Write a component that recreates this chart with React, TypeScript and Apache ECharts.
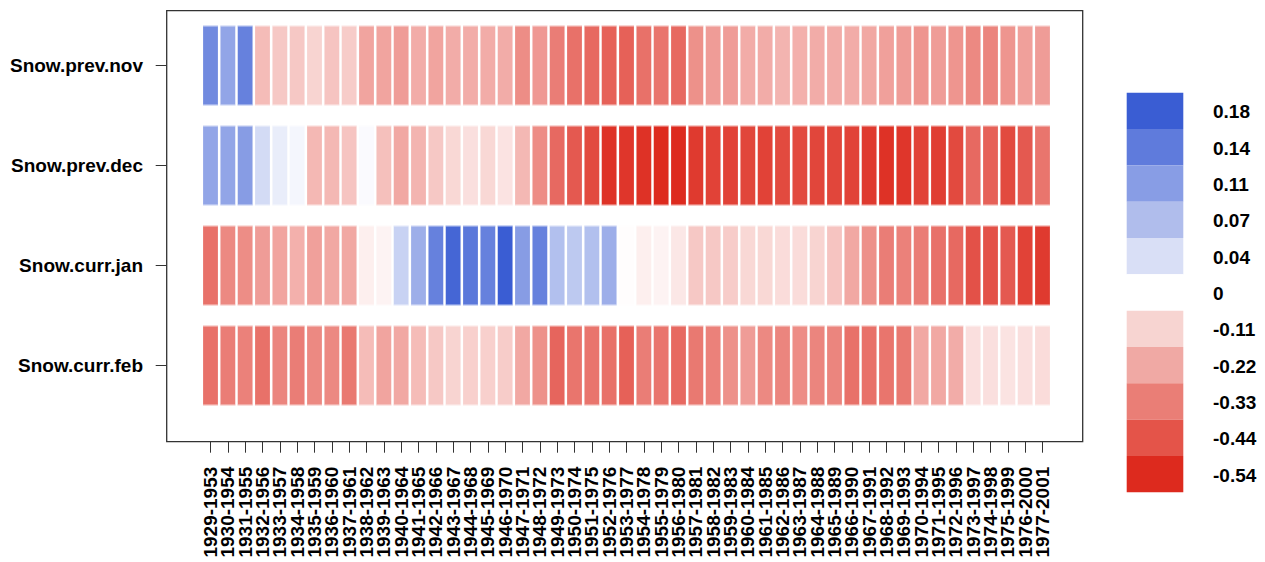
import React, { useEffect, useRef } from "react";
import * as echarts from "echarts";

const rowNames = ["Snow.prev.nov", "Snow.prev.dec", "Snow.curr.jan", "Snow.curr.feb"];

const windows = [
  "1929-1953", "1930-1954", "1931-1955", "1932-1956", "1933-1957", "1934-1958", "1935-1959",
  "1936-1960", "1937-1961", "1938-1962", "1939-1963", "1940-1964", "1941-1965", "1942-1966",
  "1943-1967", "1944-1968", "1945-1969", "1946-1970", "1947-1971", "1948-1972", "1949-1973",
  "1950-1974", "1951-1975", "1952-1976", "1953-1977", "1954-1978", "1955-1979", "1956-1980",
  "1957-1981", "1958-1982", "1959-1983", "1960-1984", "1961-1985", "1962-1986", "1963-1987",
  "1964-1988", "1965-1989", "1966-1990", "1967-1991", "1968-1992", "1969-1993", "1970-1994",
  "1971-1995", "1972-1996", "1973-1997", "1974-1998", "1975-1999", "1976-2000", "1977-2001",
];

const novValues = [
  0.13, 0.10, 0.14, -0.17, -0.14, -0.14, -0.11, -0.15, -0.13, -0.23,
  -0.23, -0.25, -0.21, -0.23, -0.21, -0.21, -0.21, -0.21, -0.29, -0.26,
  -0.33, -0.36, -0.38, -0.40, -0.40, -0.36, -0.35, -0.38, -0.28, -0.25,
  -0.25, -0.21, -0.21, -0.19, -0.20, -0.21, -0.21, -0.21, -0.22, -0.24,
  -0.25, -0.27, -0.25, -0.27, -0.30, -0.31, -0.27, -0.24, -0.25,
];
const decValues = [
  0.10, 0.10, 0.11, 0.04, 0.02, 0.01, -0.18, -0.18, -0.15, 0.005,
  -0.16, -0.22, -0.19, -0.14, -0.10, -0.08, -0.10, -0.07, -0.18, -0.29,
  -0.38, -0.42, -0.46, -0.52, -0.51, -0.52, -0.54, -0.54, -0.50, -0.48,
  -0.48, -0.47, -0.48, -0.46, -0.46, -0.47, -0.47, -0.48, -0.50, -0.52,
  -0.51, -0.48, -0.49, -0.46, -0.38, -0.40, -0.46, -0.42, -0.35,
];
const janValues = [
  -0.36, -0.30, -0.29, -0.25, -0.23, -0.20, -0.24, -0.22, -0.22, -0.04,
  -0.03, 0.05, 0.09, 0.14, 0.17, 0.15, 0.14, 0.18, 0.11, 0.14,
  0.07, 0.06, 0.07, 0.09, -0.005, -0.04, -0.03, -0.06, -0.14, -0.14,
  -0.13, -0.10, -0.10, -0.09, -0.09, -0.11, -0.15, -0.22, -0.28, -0.33,
  -0.32, -0.33, -0.36, -0.38, -0.44, -0.44, -0.42, -0.48, -0.50,
];
const febValues = [
  -0.36, -0.33, -0.32, -0.36, -0.31, -0.33, -0.30, -0.30, -0.34, -0.17,
  -0.23, -0.22, -0.17, -0.14, -0.11, -0.12, -0.12, -0.13, -0.22, -0.28,
  -0.39, -0.35, -0.35, -0.36, -0.40, -0.33, -0.35, -0.38, -0.34, -0.32,
  -0.28, -0.25, -0.30, -0.31, -0.29, -0.31, -0.31, -0.36, -0.36, -0.35,
  -0.34, -0.22, -0.22, -0.21, -0.08, -0.08, -0.07, -0.08, -0.09,
];

const legendLabels = ["0.18", "0.14", "0.11", "0.07", "0.04", "0", "-0.11", "-0.22", "-0.33", "-0.44", "-0.54"];
const legendColors = [
  "#3a5dd3", "#5f7bdc", "#889de5", "#b0bdec", "#d9dff6", "#ffffff",
  "#f7d4d1", "#f0a9a4", "#ea7e76", "#e45449", "#dd2a1e",
];

const FONT = "'Liberation Sans', Arial, Helvetica, sans-serif";

export default function App() {
  const ref = useRef<HTMLDivElement>(null);

  useEffect(() => {
    if (!ref.current) return;
    const chart = echarts.init(ref.current, undefined, { renderer: "svg" });

    const allRows = [novValues, decValues, janValues, febValues];
    const data: any[] = [];
    allRows.forEach((vals, r) => {
      vals.forEach((v, c) => data.push([c, r, v]));
    });

    const legendTop = 92.7;
    const blockH = 36.33;
    const legendGraphics: any[] = [];
    legendColors.forEach((col, i) => {
      legendGraphics.push({
        type: "rect",
        shape: { x: 1126.7, y: legendTop + i * blockH, width: 56.6, height: blockH },
        style: { fill: col, stroke: null },
        silent: true,
      });
    });
    legendLabels.forEach((lab, i) => {
      legendGraphics.push({
        type: "text",
        x: 1213,
        y: legendTop + (i + 0.5) * blockH + 1,
        style: {
          text: lab,
          fill: "#000",
          font: `bold 19px ${FONT}`,
          textAlign: "left",
          textVerticalAlign: "middle",
        },
        silent: true,
      });
    });

    chart.setOption({
      animation: false,
      backgroundColor: "#ffffff",
      grid: { left: 210.5, top: 15.5, width: 832, height: 400, containLabel: false },
      xAxis: {
        type: "category",
        data: windows,
        boundaryGap: false,
        offset: 26.2,
        axisLine: { show: false },
        axisTick: { show: true, length: 11, lineStyle: { color: "#333", width: 1 } },
        axisLabel: {
          interval: 0,
          rotate: 90,
          margin: 25,
          fontSize: 19,
          fontWeight: "bold",
          color: "#000",
          fontFamily: FONT,
          hideOverlap: false,
        },
        splitLine: { show: false },
      },
      yAxis: {
        type: "category",
        data: rowNames,
        inverse: true,
        boundaryGap: true,
        offset: 43.8,
        axisLine: { show: false },
        axisTick: { show: true, alignWithLabel: true, length: 11, lineStyle: { color: "#333", width: 1 } },
        axisLabel: { margin: 23.7, fontSize: 19, fontWeight: "bold", color: "#000", fontFamily: FONT },
        splitLine: { show: false },
      },
      visualMap: {
        type: "continuous",
        show: false,
        dimension: 2,
        min: -0.54,
        max: 0.18,
        inRange: { color: ["#dd2a1e", "#e87169", "#f4b8b4", "#ffffff", "#3a5dd3"] },
      },
      graphic: [
        {
          type: "rect",
          shape: { x: 166.7, y: 10.7, width: 916, height: 431 },
          style: { fill: "none", stroke: "#333", lineWidth: 1.3 },
          silent: true,
          z: 100,
        },
        ...legendGraphics,
      ],
      series: [
        {
          type: "scatter",
          data,
          symbol: "rect",
          symbolSize: [15, 80],
          itemStyle: { opacity: 1, borderColor: "rgba(255,255,255,0.45)", borderWidth: 1 },
          emphasis: { disabled: true },
        },
      ],
    });

    return () => chart.dispose();
  }, []);

  return (
    <div
      ref={ref}
      style={{ position: "fixed", left: 0, top: 0, width: 1265, height: 562, background: "#fff" }}
    />
  );
}
